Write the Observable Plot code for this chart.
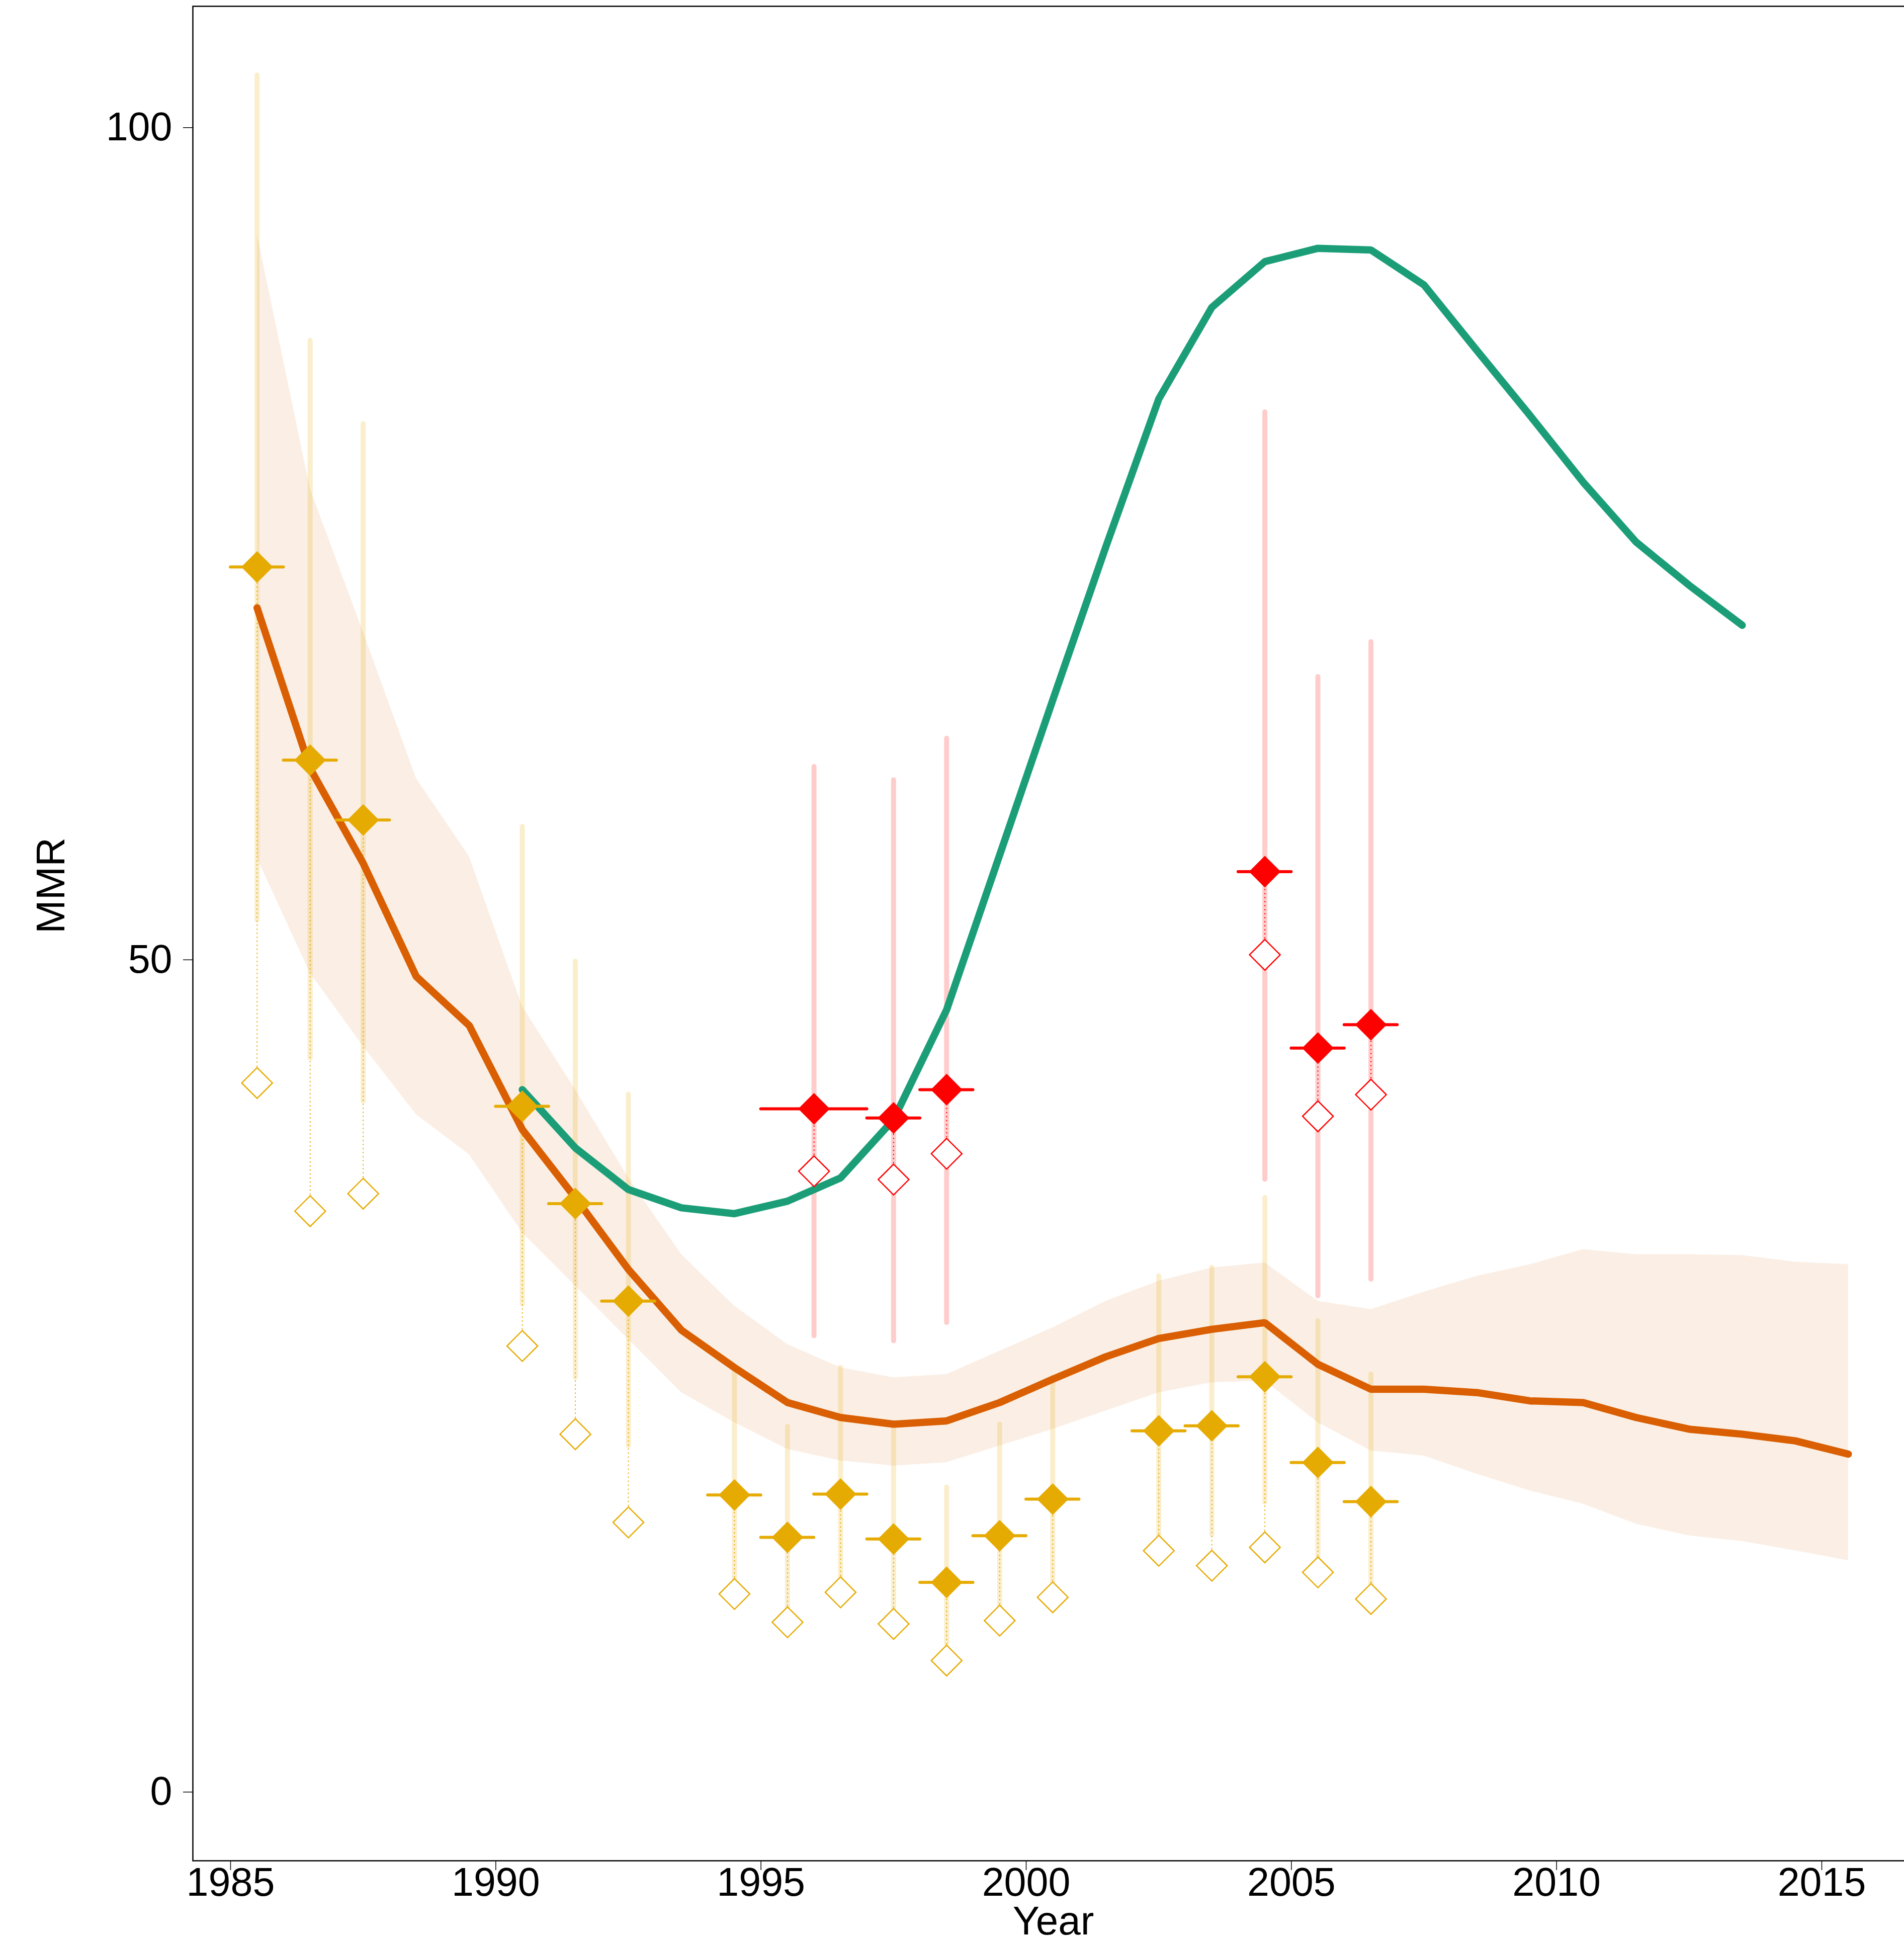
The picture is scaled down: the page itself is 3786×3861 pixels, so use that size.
<!DOCTYPE html>
<html>
<head>
<meta charset="utf-8">
<script src="https://cdn.jsdelivr.net/npm/d3@7"></script>
<script src="https://cdn.jsdelivr.net/npm/@observablehq/plot@0.6"></script>
<style>
  html, body { margin: 0; padding: 0; background: #ffffff; overflow: hidden; }
  #wrap { width: 3786px; height: 3861px; overflow: hidden; }
  #wrap svg { max-width: none !important; width: 3805px !important; height: 3861px !important; display: block; }
</style>
</head>
<body>
<div id="wrap"></div>
<script>
// ---- Model estimate (orange line + uncertainty band) ----
const estYears = [1985.5, 1986.5, 1987.5, 1988.5, 1989.5, 1990.5, 1991.5, 1992.5, 1993.5, 1994.5,
  1995.5, 1996.5, 1997.5, 1998.5, 1999.5, 2000.5, 2001.5, 2002.5, 2003.5, 2004.5,
  2005.5, 2006.5, 2007.5, 2008.5, 2009.5, 2010.5, 2011.5, 2012.5, 2013.5, 2014.5, 2015.5];
const estMMR = [71.15, 61.5, 55.8, 49.0, 46.05, 39.8, 35.7, 31.4, 27.75, 25.5,
  23.4, 22.5, 22.1, 22.3, 23.4, 24.8, 26.15, 27.25, 27.8, 28.2,
  25.7, 24.2, 24.2, 24.0, 23.5, 23.4, 22.5, 21.8, 21.5, 21.1, 20.3];
const estLower = [56.1, 49.2, 44.8, 40.7, 38.3, 33.6, 30.4, 27.2, 24.0, 22.2,
  20.6, 19.9, 19.6, 19.8, 20.8, 21.8, 22.9, 24.0, 24.6, 24.7,
  22.2, 20.5, 20.2, 19.1, 18.1, 17.3, 16.1, 15.4, 15.06, 14.5, 13.9];
const estUpper = [93.6, 78.3, 69.7, 60.9, 56.2, 47.2, 42.2, 36.9, 32.3, 29.2,
  26.9, 25.5, 24.9, 25.1, 26.5, 27.9, 29.5, 30.7, 31.5, 31.8,
  29.5, 29.0, 30.05, 31.0, 31.7, 32.6, 32.3, 32.3, 32.25, 31.85, 31.7];

// ---- Other estimate (green line) ----
const greenYears = [1990.5, 1991.5, 1992.5, 1993.5, 1994.5, 1995.5, 1996.5, 1997.5, 1998.5, 1999.5,
  2000.5, 2001.5, 2002.5, 2003.5, 2004.5, 2005.5, 2006.5, 2007.5, 2008.5, 2009.5,
  2010.5, 2011.5, 2012.5, 2013.5];
const greenMMR = [42.2, 38.7, 36.2, 35.1, 34.75, 35.5, 36.9, 40.4, 47.0, 56.3,
  65.6, 74.8, 83.7, 89.2, 91.95, 92.75, 92.65, 90.55, 86.6, 82.7,
  78.7, 75.1, 72.5, 70.1];

// ---- Observations, source A (gold) ----
const obsYears = [1985.5, 1986.5, 1987.5, 1990.5, 1991.5, 1992.5, 1994.5, 1995.5, 1996.5,
  1997.5, 1998.5, 1999.5, 2000.5, 2002.5, 2003.5, 2004.5, 2005.5, 2006.5];
const obsStart = [1985, 1986, 1987, 1990, 1991, 1992, 1994, 1995, 1996,
  1997, 1998, 1999, 2000, 2002, 2003, 2004, 2005, 2006];
const obsEnd = [1986, 1987, 1988, 1991, 1992, 1993, 1995, 1996, 1997,
  1998, 1999, 2000, 2001, 2003, 2004, 2005, 2006, 2007];
const obsAdjusted = [73.6, 62.0, 58.4, 41.2, 35.35, 29.5, 17.85, 15.3, 17.9,
  15.2, 12.6, 15.4, 17.6, 21.7, 22.0, 24.95, 19.8, 17.45];
const obsReported = [42.6, 34.9, 35.95, 26.8, 21.5, 16.2, 11.9, 10.2, 12.0,
  10.1, 7.9, 10.3, 11.7, 14.5, 13.6, 14.7, 13.2, 11.6];
const obsLower = [52.4, 44.1, 41.5, 29.3, 24.9, 20.8, 12.8, 11.1, 12.9,
  11.0, 8.9, 11.1, 12.6, 15.4, 15.45, 17.4, 14.1, 12.4];
const obsUpper = [103.15, 87.2, 82.2, 58.0, 49.9, 41.9, 25.4, 21.95, 25.5,
  21.9, 18.3, 22.1, 24.9, 31.0, 31.5, 35.7, 28.3, 25.1];

// ---- Observations, source B (red) ----
const redYears = [1996.0, 1997.5, 1998.5, 2004.5, 2005.5, 2006.5];
const redStart = [1995, 1997, 1998, 2004, 2005, 2006];
const redEnd = [1997, 1998, 1999, 2005, 2006, 2007];
const redAdjusted = [41.05, 40.5, 42.2, 55.3, 44.7, 46.1];
const redReported = [37.3, 36.8, 38.35, 50.3, 40.6, 41.9];
const redLower = [27.4, 27.1, 28.2, 36.8, 29.8, 30.8];
const redUpper = [61.6, 60.8, 63.3, 82.9, 67.0, 69.1];

// ---- Tick labels ----
const xTicks = [1985, 1990, 1995, 2000, 2005, 2010, 2015];
const yTicks = [0, 50, 100];

// ---- Build tables ----
const est = estYears.map((year, i) => ({year, mmr: estMMR[i], lo: estLower[i], hi: estUpper[i]}));
const green = greenYears.map((year, i) => ({year, mmr: greenMMR[i]}));
const gold = obsYears.map((year, i) => ({year, start: obsStart[i], end: obsEnd[i],
  adj: obsAdjusted[i], rep: obsReported[i], lo: obsLower[i], hi: obsUpper[i]}));
const red = redYears.map((year, i) => ({year, start: redStart[i], end: redEnd[i],
  adj: redAdjusted[i], rep: redReported[i], lo: redLower[i], hi: redUpper[i]}));

const GOLD = "#E6AB02", RED = "#FF0000", ORANGE = "#D95F02", GREEN = "#1B9E77";
const R = 28.4;

function obsMarks(data, color) {
  return [
    Plot.ruleX(data, {x: "year", y1: "lo", y2: "hi", stroke: color, strokeOpacity: 0.2,
      strokeWidth: 10, strokeLinecap: "round"})
  ];
}
function obsDotted(data, color) {
  return Plot.ruleX(data, {x: "year", y1: "rep", y2: "adj", stroke: color, strokeWidth: 2,
    strokeDasharray: "2.5,5.5"});
}
function obsTop(data, color) {
  return [
    Plot.ruleY(data, {y: "adj", x1: "start", x2: "end", stroke: color, strokeWidth: 6,
      strokeLinecap: "round"}),
    Plot.dot(data, {x: "year", y: "rep", symbol: "diamond2", r: 27.5, fill: "white",
      stroke: color, strokeWidth: 2.5}),
    Plot.dot(data, {x: "year", y: "adj", symbol: "diamond2", r: R, fill: color, stroke: "none"})
  ];
}

const chart = Plot.plot({
  width: 3805,
  height: 3861,
  marginLeft: 383,
  marginRight: 0,
  marginTop: 12,
  marginBottom: 162,
  x: {domain: [1984.289, 2016.735]},
  y: {domain: [-4.13, 107.29]},
  style: {fontFamily: "'Liberation Sans', Arial, Helvetica, sans-serif", background: "white", color: "black"},
  marks: [
    Plot.areaY(est, {x: "year", y1: "lo", y2: "hi", fill: ORANGE, fillOpacity: 0.1}),
    ...obsMarks(gold, GOLD),
    ...obsMarks(red, RED),
    obsDotted(gold, GOLD),
    obsDotted(red, RED),
    Plot.line(est, {x: "year", y: "mmr", stroke: ORANGE, strokeWidth: 14.5,
      strokeLinecap: "round", strokeLinejoin: "miter"}),
    Plot.line(green, {x: "year", y: "mmr", stroke: GREEN, strokeWidth: 14.5,
      strokeLinecap: "round", strokeLinejoin: "miter"}),
    ...obsTop(gold, GOLD),
    ...obsTop(red, RED),
    Plot.frame({stroke: "black", strokeWidth: 2.5}),
    Plot.axisX({ticks: xTicks, tickFormat: d => String(d), tickSize: 19, tickPadding: -6,
      fontSize: 79, label: null, strokeWidth: 1.5}),
    Plot.axisY({ticks: yTicks, tickFormat: d => String(d), tickSize: 19, tickPadding: 22,
      fontSize: 79, label: null, strokeWidth: 1.5}),
    Plot.text(["MMR"], {text: d => d, frameAnchor: "left", rotate: -90, lineAnchor: "bottom",
      dx: -256, fontSize: 80, fill: "black"}),
    Plot.text(["Year"], {text: d => d, frameAnchor: "bottom", lineAnchor: "bottom",
      dy: 146, fontSize: 80, fill: "black"})
  ]
});
document.getElementById("wrap").appendChild(chart);
</script>
</body>
</html>
